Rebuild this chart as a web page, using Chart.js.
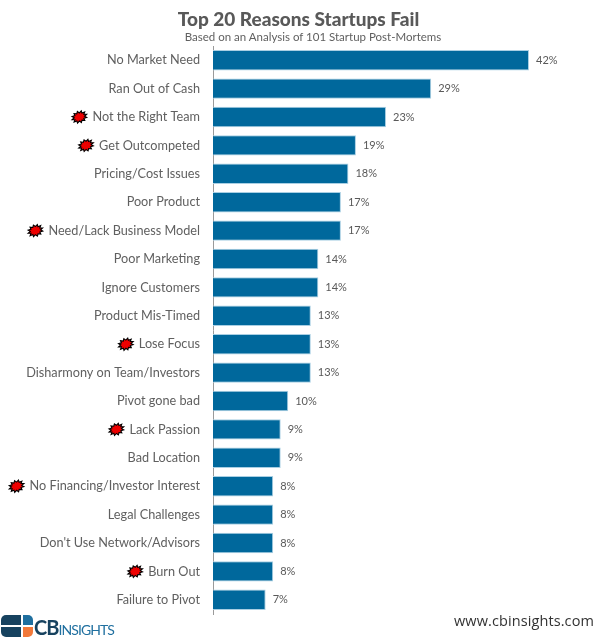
<!DOCTYPE html>
<html>
<head>
<meta charset="utf-8">
<title>Top 20 Reasons Startups Fail</title>
<script src="https://cdn.jsdelivr.net/npm/chart.js@4"></script>
<style>
  html, body { margin: 0; padding: 0; background: #fff; }
  #wrap { position: relative; width: 600px; height: 638px; overflow: hidden; font-family: Lato, sans-serif; }
  #chart { position: absolute; left: 0; top: 0; }
  .txt { position: absolute; white-space: nowrap; }
  #title { left: 0; width: 597px; top: 7px; text-align: center; font-size: 19px; font-weight: 900; color: #595959; }
  #subtitle { left: 0; width: 626px; top: 30px; text-align: center; font-size: 11.5px; color: #606060; }
  #site { right: 6px; top: 611px; font-family: "Open Sans", sans-serif; font-size: 14.5px; letter-spacing: 0.1px; color: #333; }
  #logoText { left: 34px; top: 617px; color: #1f6f9f; font-size: 20px; line-height: 20px; letter-spacing: -1px; }
  #logoText b { color: #17425f; font-weight: 700; }
  #logoText span { font-size: 14px; font-weight: 400; letter-spacing: -0.9px; }
  #logo { position: absolute; left: 1px; top: 615px; }
</style>
</head>
<body>
<div id="wrap">
  <canvas id="chart" width="600" height="638"></canvas>
  <div class="txt" id="title">Top 20 Reasons Startups Fail</div>
  <div class="txt" id="subtitle">Based on an Analysis of 101 Startup Post-Mortems</div>
  <svg id="logo" width="32" height="22" viewBox="0 0 32 22">
    <path d="M0 5a5 5 0 0 1 5-5h15v10H0z" fill="#17425f"/>
    <path d="M0 12h20v10H5a5 5 0 0 1-5-5z" fill="#17425f"/>
    <path d="M22 0h5a5 5 0 0 1 5 5v5H22z" fill="#1f6f9f"/>
    <path d="M22 12h10v5a5 5 0 0 1-5 5h-5z" fill="#f2793a"/>
  </svg>
  <div class="txt" id="logoText"><b>CB</b><span>INSIGHTS</span></div>
  <div class="txt" id="site">www.cbinsights.com</div>
</div>
<script>
const reasons = [
  'No Market Need', 'Ran Out of Cash', 'Not the Right Team', 'Get Outcompeted',
  'Pricing/Cost Issues', 'Poor Product', 'Need/Lack Business Model', 'Poor Marketing',
  'Ignore Customers', 'Product Mis-Timed', 'Lose Focus', 'Disharmony on Team/Investors',
  'Pivot gone bad', 'Lack Passion', 'Bad Location', 'No Financing/Investor Interest',
  'Legal Challenges', "Don't Use Network/Advisors", 'Burn Out', 'Failure to Pivot'
];
const percents = [42, 29, 23, 19, 18, 17, 17, 14, 14, 13, 13, 13, 10, 9, 9, 8, 8, 8, 8, 7];
const flagged = ['Not the Right Team', 'Get Outcompeted', 'Need/Lack Business Model', 'Lose Focus',
  'Lack Passion', 'No Financing/Investor Interest', 'Burn Out'];

const labelFont = '12.7px Lato, sans-serif';

// draws a spiky red blob
function drawBurst(c, x, y) {
  c.save();
  c.translate(x, y);
  c.rotate(-0.35);
  c.beginPath();
  for (let i = 0; i < 24; i++) {
    const a = i / 24 * Math.PI * 2;
    const r = i % 2 ? 4.2 : 6.2;
    const px = Math.cos(a) * r * 1.25, py = Math.sin(a) * r * 0.95;
    if (i === 0) c.moveTo(px, py); else c.lineTo(px, py);
  }
  c.closePath();
  c.fillStyle = '#ee0000';
  c.strokeStyle = '#000';
  c.lineWidth = 1.1;
  c.fill();
  c.stroke();
  c.restore();
}

const labelsPlugin = {
  id: 'labelsPlugin',
  afterDatasetsDraw(chart) {
    const c = chart.ctx, meta = chart.getDatasetMeta(0), yAxis = chart.scales.y;
    c.save();
    c.textBaseline = 'middle';
    c.font = '11px Lato, sans-serif';
    c.fillStyle = '#595959';
    c.textAlign = 'left';
    meta.data.forEach((bar, i) => {
      c.fillText(percents[i] + '%', bar.x + 7, bar.y);
    });
    // markers sit just left of the category label
    c.font = labelFont;
    reasons.forEach((name, i) => {
      if (!flagged.includes(name)) return;
      const w = c.measureText(name).width;
      drawBurst(c, yAxis.right - 13 - w - 13, yAxis.getPixelForValue(i));
    });
    c.restore();
  }
};

new Chart(document.getElementById('chart').getContext('2d'), {
  type: 'bar',
  data: {
    labels: reasons,
    datasets: [{
      data: percents,
      backgroundColor: '#00689c',
      borderColor: '#a9cfe3',
      borderWidth: 1,
      categoryPercentage: 1,
      barPercentage: 0.72
    }]
  },
  options: {
    indexAxis: 'y',
    responsive: false,
    animation: false,
    layout: { padding: { top: 46, right: 71, bottom: 24, left: 0 } },
    plugins: { legend: { display: false }, tooltip: { enabled: false } },
    scales: {
      x: { display: false, min: 0, max: 42 },
      y: {
        afterFit(scale) { scale.width = 213; },
        grid: { drawOnChartArea: false, drawTicks: false, drawBorder: false },
        border: { color: '#9a9a9a', width: 1 },
        ticks: { color: '#606060', font: { family: 'Lato, sans-serif', size: 12.7 }, padding: 13, autoSkip: false }
      }
    }
  },
  plugins: [labelsPlugin]
});
</script>
</body>
</html>
